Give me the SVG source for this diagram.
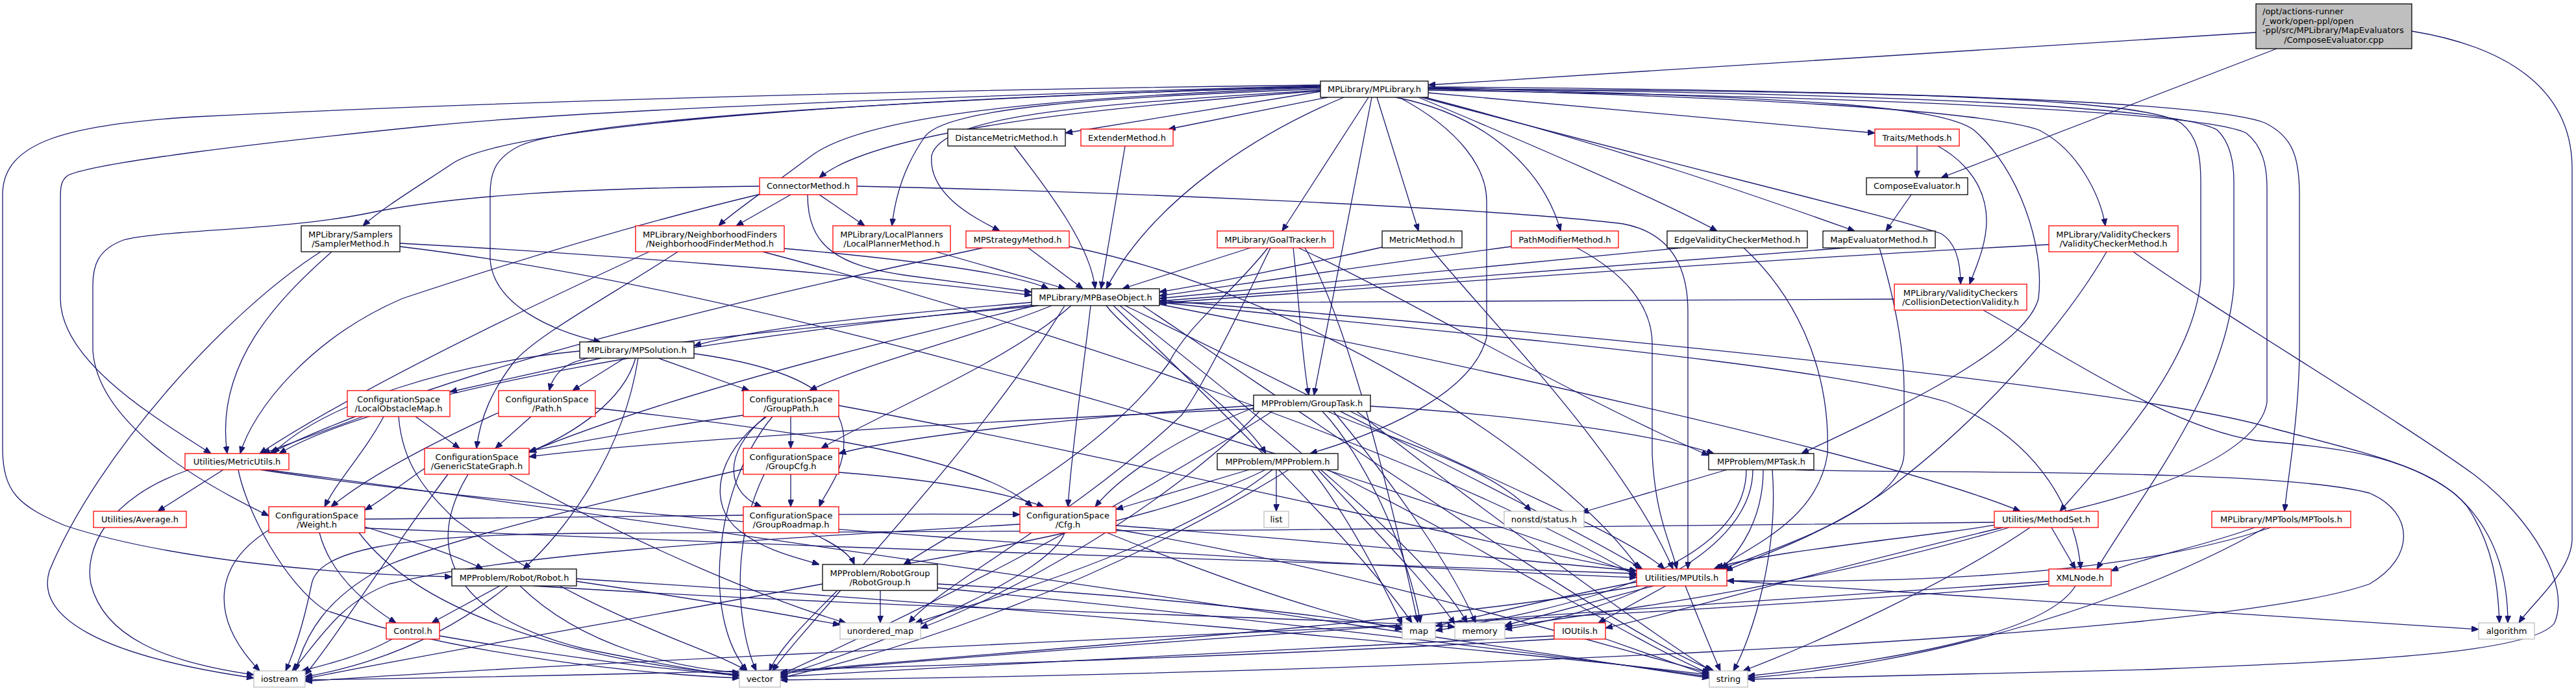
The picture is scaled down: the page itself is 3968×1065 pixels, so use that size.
<svg xmlns="http://www.w3.org/2000/svg" width="3968" height="1065" viewBox="0 0 3968 1065">
<style>
.n rect{fill:#fff;stroke-width:1.3}
.b rect{stroke:#000}
.r rect{stroke:#f00}
.g rect{stroke:#bfbfbf}
.root rect{fill:#bfbfbf;stroke:#000}
text{font-family:"DejaVu Sans","Liberation Sans",sans-serif;font-size:13px;fill:#000;text-anchor:middle}
.lt{text-anchor:start}
.e path{fill:none;stroke:#191970;stroke-width:1.3;marker-end:url(#a)}
</style>
<defs>
<marker id="a" markerWidth="11" markerHeight="9" refX="11" refY="4.5" orient="auto" markerUnits="userSpaceOnUse"><path d="M0,0 L11,4.5 L0,9 z" fill="#191970" stroke="#191970" stroke-width="1"/></marker>
</defs>
<rect width="3968" height="1065" fill="#fff"/>
<g class="e" id="edges">
<path d="M3475,50 L2200,131"/>
<path d="M3507,75 L2990,274"/>
<path d="M3715,48 C3850,70 3962,130 3962,260 L3962,830 C3962,880 3900,930 3880,960"/>
<path d="M2953,225 L2953,274"/>
<path d="M2985,225 C3030,250 3060,290 3060,340 C3060,380 3040,420 3034,438"/>
<path d="M2944,300 L2905,356"/>
<path d="M2200,143 L2888,205"/>
<path d="M2195,150 C2500,230 2700,300 2857,356"/>
<path d="M2190,150 C2600,260 2900,330 2990,360 C3015,375 3020,410 3020,438"/>
<path d="M2200,137 C2700,150 3050,170 3140,200 C3200,230 3235,300 3243,348"/>
<path d="M2185,150 C2400,240 2560,310 2645,356"/>
<path d="M2150,150 C2300,180 2380,270 2404,356"/>
<path d="M2121,150 L2185,356"/>
<path d="M2108,150 L1975,356"/>
<path d="M2034,141 L1641,205"/>
<path d="M2045,150 L1800,199"/>
<path d="M2034,139 C1700,160 1450,175 1435,240 C1430,300 1500,335 1540,356"/>
<path d="M2034,137 C1700,150 1460,165 1425,210 C1390,260 1378,310 1374,348"/>
<path d="M2034,135 C1600,150 1330,180 1250,240 C1170,300 1125,330 1107,348"/>
<path d="M2034,140 C1700,165 1350,200 1262,274"/>
<path d="M2034,134 C1400,150 800,190 700,250 C640,290 590,320 559,348"/>
<path d="M2070,150 C1950,200 1780,300 1704,445"/>
<path d="M2034,133 C1500,150 900,180 800,225 C760,245 755,270 755,300 L755,400 C760,470 850,510 925,527"/>
<path d="M2034,132 C1400,150 900,170 660,194 C400,220 150,250 105,270 C93,278 93,290 93,310 L93,460 C93,560 250,650 325,699"/>
<path d="M2034,131 C1300,140 700,160 300,180 C100,192 4,220 4,300 L4,690 C4,760 30,780 100,810 C250,860 500,885 696,889"/>
<path d="M2155,150 C2250,200 2290,260 2290,310 L2290,520 C2270,600 2150,660 2018,699"/>
<path d="M2113,150 L2024,609"/>
<path d="M2200,135 C2800,150 2990,165 3040,200 C3110,260 3150,380 3140,460 C3120,540 2900,640 2775,699"/>
<path d="M2200,137 C2900,140 3300,150 3360,190 C3385,210 3390,240 3390,280 L3390,430 C3380,560 3250,700 3173,788"/>
<path d="M2200,136 C2950,145 3350,165 3415,200 C3436,220 3441,250 3441,280 L3441,440 C3430,600 3300,760 3230,877"/>
<path d="M2200,134 C3000,140 3420,160 3490,190 C3530,210 3542,240 3542,300 L3542,550 C3540,650 3525,730 3519,788"/>
<path d="M2200,139 C2950,150 3400,175 3460,205 C3485,225 3492,255 3492,290 L3492,620 C3480,700 3300,780 3000,820 C2800,845 2680,860 2640,877"/>
<path d="M1218,300 L1134,348"/>
<path d="M1262,300 L1332,348"/>
<path d="M1244,300 C1244,380 1290,410 1400,425 C1480,435 1550,445 1589,450"/>
<path d="M1170,287 C900,290 700,300 560,330 C430,355 240,355 190,370 C150,385 143,410 143,440 L143,540 C150,650 300,740 414,795"/>
<path d="M1172,299 C1000,340 800,400 620,460 C480,520 390,630 370,699"/>
<path d="M1320,287 C1700,295 2300,320 2500,345 C2580,360 2600,420 2600,480 L2600,877"/>
<path d="M616,375 C900,390 1300,420 1589,455"/>
<path d="M511,388 C430,460 330,560 350,699"/>
<path d="M494,388 C350,480 150,700 76,880 C55,950 150,1010 391,1045"/>
<path d="M616,380 C1200,450 2000,700 2521,885"/>
<path d="M1208,383 C1400,400 1560,420 1615,445"/>
<path d="M1044,388 C950,450 820,520 790,560 C760,600 740,640 734,691"/>
<path d="M1000,388 C800,480 550,600 400,699"/>
<path d="M1175,388 C1600,500 2200,700 2521,888"/>
<path d="M1442,388 L1641,445"/>
<path d="M1584,382 L1668,445"/>
<path d="M1514,382 C1200,450 700,560 415,699"/>
<path d="M1647,380 C2000,450 2400,700 2525,877"/>
<path d="M1562,225 C1620,300 1680,380 1687,445"/>
<path d="M1733,225 L1696,445"/>
<path d="M1926,382 L1729,445"/>
<path d="M1992,382 C2000,450 2005,550 2016,609"/>
<path d="M2000,382 C2150,450 2400,600 2632,702"/>
<path d="M1953,382 C1900,450 1830,500 1800,560 C1700,700 1500,800 1392,870"/>
<path d="M1957,382 C1900,500 1850,600 1820,640 C1650,800 1450,900 1400,960"/>
<path d="M2010,382 C2080,500 2150,800 2184,960"/>
<path d="M2129,381 C2000,410 1850,440 1786,450"/>
<path d="M2203,382 C2300,500 2500,700 2577,877"/>
<path d="M2328,380 C2100,410 1900,440 1786,456"/>
<path d="M2429,382 C2500,420 2545,470 2545,530 L2545,700 C2550,800 2575,840 2583,877"/>
<path d="M2590,382 C2300,410 2000,440 1786,460"/>
<path d="M2686,382 C2760,450 2820,560 2815,700 C2800,800 2700,840 2645,877"/>
<path d="M2842,382 C2500,410 2000,445 1786,464"/>
<path d="M2895,382 C2915,450 2933,530 2933,600 L2933,700 C2930,780 2750,840 2652,877"/>
<path d="M3156,377 C2700,400 2100,445 1786,467"/>
<path d="M3245,388 C3180,500 3050,650 2900,760 C2800,830 2700,860 2658,880"/>
<path d="M3286,388 C3400,470 3700,650 3813,733 C3900,800 3960,900 3935,960 C3900,1010 3600,1020 3306,1032 C3000,1040 2800,1045 2692,1047"/>
<path d="M2918,461 C2500,463 2000,465 1786,467"/>
<path d="M3055,478 C3200,560 3350,660 3475,679 C3600,690 3700,700 3780,760 C3850,820 3863,900 3863,960"/>
<path d="M1589,466 C1300,490 1150,510 1069,533"/>
<path d="M1589,470 C1100,520 600,600 430,699"/>
<path d="M1595,471 C1300,540 1000,620 815,697"/>
<path d="M1620,471 C1500,520 1330,560 1247,602"/>
<path d="M1600,471 C1300,500 950,530 880,560 C860,570 850,585 846,602"/>
<path d="M1650,471 C1550,560 1350,640 1265,691"/>
<path d="M1680,471 C1670,560 1650,700 1645,781"/>
<path d="M1704,471 C1750,530 1900,620 1950,699"/>
<path d="M1733,471 C2000,600 2400,800 2530,877"/>
<path d="M1786,469 C2200,550 2900,700 3112,788"/>
<path d="M1786,466 C2300,520 2800,560 3000,620 C3150,680 3200,800 3205,877"/>
<path d="M1786,463 C2500,520 3300,600 3500,660 C3650,700 3750,720 3800,780 C3840,840 3848,900 3850,960"/>
<path d="M1760,471 C2100,700 2500,980 2640,1034"/>
<path d="M1640,471 C1500,700 1250,950 1190,1034"/>
<path d="M1715,471 C1900,650 2100,850 2175,960"/>
<path d="M1725,471 C1950,650 2200,850 2260,960"/>
<path d="M926,552 L693,604"/>
<path d="M962,552 L882,602"/>
<path d="M1014,552 L1154,602"/>
<path d="M979,552 C960,620 880,670 815,697"/>
<path d="M983,552 C960,700 870,820 806,877"/>
<path d="M1069,545 C1250,570 1300,620 1300,680 C1300,730 1270,760 1262,781"/>
<path d="M893,541 C700,560 500,620 420,699"/>
<path d="M559,642 L405,699"/>
<path d="M591,642 C560,700 520,740 500,781"/>
<path d="M640,642 L708,691"/>
<path d="M614,642 C620,720 660,760 700,800 C900,950 1100,1000 1150,1034"/>
<path d="M818,642 L763,691"/>
<path d="M768,636 C650,690 560,740 510,781"/>
<path d="M917,629 C1200,660 1500,700 1590,781"/>
<path d="M1218,642 L1218,691"/>
<path d="M1179,642 C1110,700 1120,760 1173,781"/>
<path d="M1181,642 C1100,700 1090,780 1139,818 C1180,850 1230,860 1262,870"/>
<path d="M1190,642 C1100,750 1080,950 1151,1034"/>
<path d="M1145,640 C1000,660 900,680 815,695"/>
<path d="M1292,625 C1700,700 2200,820 2521,880"/>
<path d="M1218,731 L1218,781"/>
<path d="M1292,728 C1450,740 1550,760 1608,781"/>
<path d="M1177,731 C1120,850 1140,980 1165,1034"/>
<path d="M1145,723 C900,780 700,830 600,870 C500,920 470,980 455,1034"/>
<path d="M1249,821 C1290,840 1310,855 1316,870"/>
<path d="M654,722 C620,745 590,770 562,786"/>
<path d="M721,731 C650,850 700,950 900,1000 C1000,1020 1080,1035 1139,1042"/>
<path d="M784,731 C1000,850 1200,930 1303,960"/>
<path d="M690,731 C600,850 520,980 470,1040"/>
<path d="M344,724 L243,788"/>
<path d="M291,724 C160,770 130,850 140,900 C160,980 250,1020 391,1040"/>
<path d="M367,724 C380,790 440,900 500,940 C700,1010 1000,1040 1139,1045"/>
<path d="M401,724 C900,800 2000,870 2521,890"/>
<path d="M410,724 C1000,800 2200,980 2633,1045"/>
<path d="M492,821 C510,890 570,935 610,960"/>
<path d="M562,812 C620,830 690,850 744,877"/>
<path d="M414,817 C330,870 320,950 400,1034"/>
<path d="M553,821 C650,950 900,1020 1139,1040"/>
<path d="M562,800 C900,798 1300,790 1571,793"/>
<path d="M562,814 C1200,840 2000,870 2521,884"/>
<path d="M604,985 C560,1010 500,1025 465,1034"/>
<path d="M677,980 C850,1010 1000,1030 1139,1041"/>
<path d="M770,903 L665,960"/>
<path d="M782,903 C700,970 600,1020 470,1043"/>
<path d="M801,903 C900,1000 1050,1030 1139,1037"/>
<path d="M888,896 C1050,920 1200,945 1294,963"/>
<path d="M888,892 C1500,930 2300,1000 2633,1040"/>
<path d="M822,903 C1400,940 2000,950 2241,966"/>
<path d="M1356,910 L1356,960"/>
<path d="M1290,910 C1240,960 1200,1000 1185,1034"/>
<path d="M1267,900 C1000,950 700,1000 470,1046"/>
<path d="M1444,906 C1900,950 2400,1010 2633,1043"/>
<path d="M1444,900 C1800,920 2050,950 2160,968"/>
<path d="M1719,810 C2000,830 2300,860 2521,880"/>
<path d="M1571,808 C1200,830 800,850 600,900 C520,930 490,990 450,1034"/>
<path d="M1640,821 C1620,880 1400,980 1202,1042"/>
<path d="M1705,821 C1900,900 2050,950 2160,970"/>
<path d="M1719,816 C2100,880 2450,990 2633,1037"/>
<path d="M1966,724 L1966,788"/>
<path d="M1924,724 L1719,785"/>
<path d="M1949,724 C1800,800 1500,850 1392,870"/>
<path d="M1960,724 C1800,850 1500,930 1410,960"/>
<path d="M1985,724 C1700,900 1400,1000 1202,1045"/>
<path d="M2020,724 C2080,800 2130,900 2160,963"/>
<path d="M2030,724 C2100,800 2200,900 2241,962"/>
<path d="M2045,724 C2300,850 2500,980 2633,1038"/>
<path d="M1932,628 C1800,680 1720,740 1687,781"/>
<path d="M1931,625 C1700,640 1400,670 1292,699"/>
<path d="M1931,630 C1500,650 1000,680 815,704"/>
<path d="M2111,626 C2350,640 2550,670 2640,699"/>
<path d="M2045,634 C2150,680 2300,720 2358,788"/>
<path d="M2037,634 C2100,700 2170,850 2188,960"/>
<path d="M2054,634 C2150,750 2240,880 2273,960"/>
<path d="M2080,634 C2250,720 2500,820 2564,877"/>
<path d="M1960,634 C1700,800 1400,950 1202,1040"/>
<path d="M1940,634 C1800,780 1550,920 1418,968"/>
<path d="M2090,634 C2300,800 2550,980 2636,1034"/>
<path d="M2660,724 L2436,790"/>
<path d="M2716,724 C2716,800 2680,850 2652,877"/>
<path d="M2700,724 C2700,850 2500,940 2318,970"/>
<path d="M2730,724 C2740,850 2700,980 2670,1034"/>
<path d="M2690,724 C2690,880 2400,940 2211,972"/>
<path d="M2766,724 C2900,730 3500,720 3650,760 C3720,790 3720,860 3650,900 C3400,990 2000,1040 1202,1048"/>
<path d="M3160,813 L3197,877"/>
<path d="M3072,805 C2500,815 1500,820 900,822 C600,824 490,850 480,900 C470,950 455,1000 440,1034"/>
<path d="M3127,813 C3000,900 2800,990 2685,1034"/>
<path d="M3095,813 C2800,900 2500,940 2318,966"/>
<path d="M3085,813 C2800,880 2600,940 2473,968"/>
<path d="M3197,903 C3150,980 2900,1020 2692,1042"/>
<path d="M3156,896 C2500,940 1600,1000 1202,1038"/>
<path d="M3156,900 C2500,960 1200,1000 470,1050"/>
<path d="M2660,895 L3818,970"/>
<path d="M2566,903 L2462,960"/>
<path d="M2596,903 C2615,950 2635,1000 2650,1034"/>
<path d="M2547,903 L2318,964"/>
<path d="M2521,897 C2400,920 2300,945 2211,965"/>
<path d="M2525,903 C2200,960 1600,1000 1202,1036"/>
<path d="M2471,984 L2633,1041"/>
<path d="M2394,980 C2000,1000 1600,1020 1202,1043"/>
<path d="M2394,985 C1800,1020 1000,1040 470,1048"/>
<path d="M3473,813 C3400,840 3300,860 3252,880"/>
<path d="M3498,813 C3300,880 3000,900 2660,895"/>
<path d="M3490,813 C3300,920 3000,1020 2692,1045"/>
</g>
<g id="n_root" class="n root"><rect x="3475" y="6" width="240" height="69"/><text class="lt" x="3485" y="22">/opt/actions-runner</text><text class="lt" x="3485" y="37">/_work/open-ppl/open</text><text class="lt" x="3485" y="51">-ppl/src/MPLibrary/MapEvaluators</text><text x="3595" y="66">/ComposeEvaluator.cpp</text></g>
<g id="n_mplibrary" class="n b"><rect x="2034" y="125" width="166" height="25"/><text x="2117" y="142">MPLibrary/MPLibrary.h</text></g>
<g id="n_traits" class="n r"><rect x="2888" y="199" width="130" height="26"/><text x="2953" y="216.5">Traits/Methods.h</text></g>
<g id="n_composeh" class="n b"><rect x="2875" y="274" width="156" height="26"/><text x="2953" y="291">ComposeEvaluator.h</text></g>
<g id="n_distance" class="n b"><rect x="1460" y="199" width="181" height="26"/><text x="1550.5" y="216.5">DistanceMetricMethod.h</text></g>
<g id="n_extender" class="n r"><rect x="1665" y="199" width="142" height="26"/><text x="1736" y="216.5">ExtenderMethod.h</text></g>
<g id="n_connector" class="n r"><rect x="1170" y="274" width="150" height="26"/><text x="1245" y="291">ConnectorMethod.h</text></g>
<g id="n_sampler" class="n b"><rect x="464" y="348" width="152" height="40"/><text x="540" y="365.5">MPLibrary/Samplers</text><text x="540" y="380">/SamplerMethod.h</text></g>
<g id="n_nf" class="n r"><rect x="979" y="348" width="229" height="40"/><text x="1093.5" y="365.5">MPLibrary/NeighborhoodFinders</text><text x="1093.5" y="380">/NeighborhoodFinderMethod.h</text></g>
<g id="n_lp" class="n r"><rect x="1283" y="348" width="181" height="40"/><text x="1373.5" y="365.5">MPLibrary/LocalPlanners</text><text x="1373.5" y="380">/LocalPlannerMethod.h</text></g>
<g id="n_strategy" class="n r"><rect x="1488" y="356" width="159" height="26"/><text x="1567.5" y="373.5">MPStrategyMethod.h</text></g>
<g id="n_goal" class="n r"><rect x="1875" y="356" width="179" height="26"/><text x="1964.5" y="373.5">MPLibrary/GoalTracker.h</text></g>
<g id="n_metric" class="n b"><rect x="2129" y="356" width="123" height="26"/><text x="2190.5" y="373.5">MetricMethod.h</text></g>
<g id="n_pathmod" class="n r"><rect x="2328" y="356" width="165" height="26"/><text x="2410.5" y="373.5">PathModifierMethod.h</text></g>
<g id="n_edgevc" class="n b"><rect x="2568" y="356" width="216" height="26"/><text x="2676" y="373.5">EdgeValidityCheckerMethod.h</text></g>
<g id="n_mapeval" class="n b"><rect x="2808" y="356" width="173" height="26"/><text x="2894.5" y="373.5">MapEvaluatorMethod.h</text></g>
<g id="n_vcm" class="n r"><rect x="3156" y="348" width="199" height="40"/><text x="3255.5" y="365.5">MPLibrary/ValidityCheckers</text><text x="3255.5" y="380">/ValidityCheckerMethod.h</text></g>
<g id="n_cdv" class="n r"><rect x="2918" y="438" width="204" height="40"/><text x="3020" y="455.5">MPLibrary/ValidityCheckers</text><text x="3020" y="470">/CollisionDetectionValidity.h</text></g>
<g id="n_base" class="n b"><rect x="1589" y="445" width="197" height="26"/><text x="1687.5" y="462.5">MPLibrary/MPBaseObject.h</text></g>
<g id="n_solution" class="n b"><rect x="893" y="527" width="176" height="25"/><text x="981" y="544">MPLibrary/MPSolution.h</text></g>
<g id="n_lom" class="n r"><rect x="535" y="602" width="158" height="40"/><text x="614" y="619.5">ConfigurationSpace</text><text x="614" y="634">/LocalObstacleMap.h</text></g>
<g id="n_path" class="n r"><rect x="768" y="602" width="149" height="40"/><text x="842.5" y="619.5">ConfigurationSpace</text><text x="842.5" y="634">/Path.h</text></g>
<g id="n_grouppath" class="n r"><rect x="1145" y="602" width="147" height="40"/><text x="1218.5" y="619.5">ConfigurationSpace</text><text x="1218.5" y="634">/GroupPath.h</text></g>
<g id="n_grouptask" class="n b"><rect x="1931" y="609" width="180" height="25"/><text x="2021" y="626">MPProblem/GroupTask.h</text></g>
<g id="n_gsg" class="n r"><rect x="654" y="691" width="161" height="40"/><text x="734.5" y="708.5">ConfigurationSpace</text><text x="734.5" y="723">/GenericStateGraph.h</text></g>
<g id="n_groupcfg" class="n r"><rect x="1145" y="691" width="147" height="40"/><text x="1218.5" y="708.5">ConfigurationSpace</text><text x="1218.5" y="723">/GroupCfg.h</text></g>
<g id="n_metricutils" class="n r"><rect x="285" y="699" width="160" height="25"/><text x="365" y="716">Utilities/MetricUtils.h</text></g>
<g id="n_mpproblem" class="n b"><rect x="1875" y="699" width="186" height="25"/><text x="1968" y="716">MPProblem/MPProblem.h</text></g>
<g id="n_mptask" class="n b"><rect x="2632" y="699" width="162" height="25"/><text x="2713" y="716">MPProblem/MPTask.h</text></g>
<g id="n_weight" class="n r"><rect x="414" y="781" width="148" height="40"/><text x="488" y="798.5">ConfigurationSpace</text><text x="488" y="813">/Weight.h</text></g>
<g id="n_grouproadmap" class="n r"><rect x="1145" y="781" width="147" height="40"/><text x="1218.5" y="798.5">ConfigurationSpace</text><text x="1218.5" y="813">/GroupRoadmap.h</text></g>
<g id="n_cfg" class="n r"><rect x="1571" y="781" width="148" height="40"/><text x="1645" y="798.5">ConfigurationSpace</text><text x="1645" y="813">/Cfg.h</text></g>
<g id="n_average" class="n r"><rect x="144" y="788" width="143" height="25"/><text x="215.5" y="805">Utilities/Average.h</text></g>
<g id="n_list" class="n g"><rect x="1947" y="788" width="38" height="25"/><text x="1966" y="805">list</text></g>
<g id="n_status" class="n g"><rect x="2317" y="788" width="123" height="25"/><text x="2378.5" y="805">nonstd/status.h</text></g>
<g id="n_methodset" class="n r"><rect x="3072" y="788" width="160" height="25"/><text x="3152" y="805">Utilities/MethodSet.h</text></g>
<g id="n_mptools" class="n r"><rect x="3407" y="788" width="214" height="25"/><text x="3514" y="805">MPLibrary/MPTools/MPTools.h</text></g>
<g id="n_robot" class="n b"><rect x="696" y="877" width="192" height="26"/><text x="792" y="894.5">MPProblem/Robot/Robot.h</text></g>
<g id="n_robotgroup" class="n b"><rect x="1267" y="870" width="177" height="40"/><text x="1355.5" y="887.5">MPProblem/RobotGroup</text><text x="1355.5" y="902">/RobotGroup.h</text></g>
<g id="n_mputils" class="n r"><rect x="2521" y="877" width="139" height="26"/><text x="2590.5" y="894.5">Utilities/MPUtils.h</text></g>
<g id="n_xmlnode" class="n r"><rect x="3156" y="877" width="96" height="26"/><text x="3204" y="894.5">XMLNode.h</text></g>
<g id="n_control" class="n r"><rect x="595" y="960" width="82" height="25"/><text x="636" y="977">Control.h</text></g>
<g id="n_umap" class="n g"><rect x="1294" y="960" width="124" height="25"/><text x="1356" y="977">unordered_map</text></g>
<g id="n_map" class="n g"><rect x="2160" y="960" width="51" height="25"/><text x="2185.5" y="977">map</text></g>
<g id="n_memory" class="n g"><rect x="2241" y="960" width="77" height="25"/><text x="2279.5" y="977">memory</text></g>
<g id="n_ioutils" class="n r"><rect x="2394" y="960" width="79" height="25"/><text x="2433.5" y="977">IOUtils.h</text></g>
<g id="n_algorithm" class="n g"><rect x="3818" y="960" width="86" height="25"/><text x="3861" y="977">algorithm</text></g>
<g id="n_iostream" class="n g"><rect x="391" y="1034" width="79" height="25"/><text x="430.5" y="1051">iostream</text></g>
<g id="n_vector" class="n g"><rect x="1139" y="1034" width="63" height="25"/><text x="1170.5" y="1051">vector</text></g>
<g id="n_string" class="n g"><rect x="2633" y="1034" width="59" height="25"/><text x="2662.5" y="1051">string</text></g>
</svg>
